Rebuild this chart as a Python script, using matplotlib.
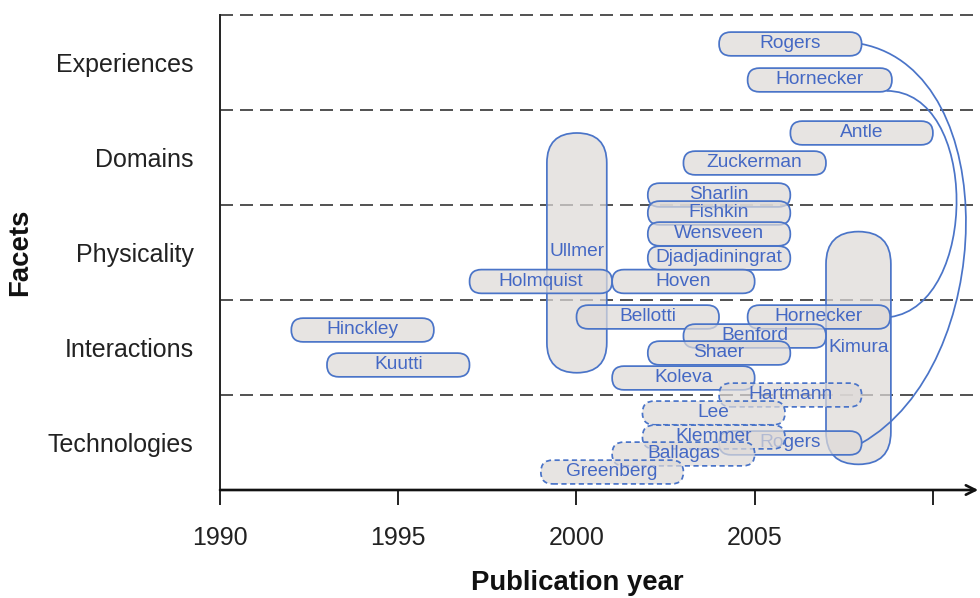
import matplotlib
matplotlib.use('Agg')
import matplotlib.pyplot as plt
from matplotlib.patches import FancyBboxPatch, PathPatch
from matplotlib.path import Path

plt.rcParams['font.family'] = ['Liberation Sans', 'DejaVu Sans']

# ---------------- data ----------------
facets = ['Technologies', 'Interactions', 'Physicality', 'Domains', 'Experiences']
facet_pos = [0.5, 1.5, 2.5, 3.5, 4.5]
band_edges = [1, 2, 3, 4, 5]
year_ticks = [1990, 1995, 2000, 2005, 2010]
year_labels = ['1990', '1995', '2000', '2005', '']

# horizontal entries (drawing order matters: later ones lie on top)
names = ['Rogers', 'Hornecker', 'Antle', 'Zuckerman', 'Sharlin', 'Fishkin',
         'Wensveen', 'Djadjadiningrat', 'Holmquist', 'Hoven', 'Hinckley',
         'Kuutti', 'Bellotti', 'Hornecker', 'Benford', 'Shaer', 'Koleva',
         'Hartmann', 'Rogers', 'Lee', 'Klemmer', 'Ballagas', 'Greenberg']
starts = [2004.0, 2004.8, 2006.0, 2003.0, 2002.0, 2002.0,
          2002.0, 2002.0, 1997.0, 2001.0, 1992.0,
          1993.0, 2000.0, 2004.8, 2003.0, 2002.0, 2001.0,
          2004.0, 2004.0, 2001.85, 2001.85, 2001.0, 1999.0]
ends = [2008.0, 2008.85, 2010.0, 2007.0, 2006.0, 2006.0,
        2006.0, 2006.0, 2001.0, 2005.0, 1996.0,
        1997.0, 2004.0, 2008.8, 2007.0, 2006.0, 2005.0,
        2008.0, 2008.0, 2005.85, 2005.85, 2005.0, 2003.0]
rows = [4.695, 4.316, 3.758, 3.442, 3.105, 2.916,
        2.695, 2.442, 2.195, 2.195, 1.684,
        1.316, 1.821, 1.821, 1.621, 1.442, 1.179,
        1.0, 0.495, 0.811, 0.558, 0.379, 0.189]
dashed = [False, False, False, False, False, False,
          False, False, False, False, False,
          False, False, False, False, False, False,
          True, False, True, True, True, True]

# vertical entries spanning several facets
v_names = ['Ullmer', 'Kimura']
v_x0 = [1999.17, 2007.0]
v_x1 = [2000.85, 2008.82]
v_y0 = [1.234, 0.27]
v_y1 = [3.758, 2.72]

# links between entries (index into horizontal entries: from, to)
links = [(0, 18), (1, 13)]

# ---------------- style ----------------
edge_blue = '#4a74c8'
text_blue = '#4468c4'
pill_h = 0.25

fig = plt.figure(figsize=(9.8, 5.98), dpi=100)
ax = fig.add_axes([220 / 980, 108 / 598, 760 / 980, 475 / 598])
ax.set_xlim(1990, 2011.32)
ax.set_ylim(0, 5)

for s in ['top', 'right', 'bottom']:
    ax.spines[s].set_visible(False)
ax.spines['left'].set_linewidth(1.4)
ax.spines['left'].set_color('#222222')

ax.set_xticks(year_ticks)
ax.set_xticklabels(year_labels, fontsize=18, color='#222222')
ax.tick_params(axis='x', length=11, width=1.4, color='#222222', pad=15)
ax.set_yticks(facet_pos)
ax.set_yticklabels(facets, fontsize=18, color='#222222')
ax.tick_params(axis='y', length=0, pad=19)

# axis arrow
ax.annotate('', xy=(2011.27, 0), xytext=(1990, 0),
            arrowprops=dict(arrowstyle='->', lw=1.9, color='#111111',
                            mutation_scale=17, shrinkA=0, shrinkB=0),
            annotation_clip=False, zorder=10)

# dashed band separators
for yb in band_edges:
    ax.plot([1990, 2011.32], [yb, yb], color='#333333', lw=1.2,
            dashes=(7.8, 4.2), zorder=1, clip_on=False)

# aspect for round corners (pixels per x-unit / pixels per y-unit)
p0 = ax.transData.transform((1990, 0))
px = ax.transData.transform((1991, 0))[0] - p0[0]
py = ax.transData.transform((1990, 1))[1] - p0[1]
ma = px / py


def pill(x0, x1, y0, y1, dash, z):
    w = x1 - x0
    h = y1 - y0
    r = min(w, h / ma) / 2.0
    patch = FancyBboxPatch((x0, y0), w, h,
                           boxstyle='round,pad=0,rounding_size=%f' % r,
                           mutation_aspect=ma,
                           facecolor=(0.87, 0.855, 0.847, 0.72),
                           edgecolor=edge_blue, lw=1.25, zorder=z, clip_on=False)
    if dash:
        patch.set_linestyle((0, (3, 2)))
    ax.add_patch(patch)


# vertical pills
for i, nm in enumerate(v_names):
    pill(v_x0[i], v_x1[i], v_y0[i], v_y1[i], False, 2 + 0.01 * i)
    ax.text((v_x0[i] + v_x1[i]) / 2, (v_y0[i] + v_y1[i]) / 2 + 0.01, nm,
            ha='center', va='center', fontsize=13.8, color=text_blue,
            zorder=2.005 + 0.01 * i)

# links
for a, b in links:
    xa, ya = ends[a], rows[a]
    xb, yb = ends[b], rows[b]
    if a == 1:
        xa, ya = ends[a] - 0.15, rows[a] - pill_h / 2 + 0.01
        verts = [(xa, ya), (2011.3, ya), (2011.3, 1.95), (xb, yb)]
    else:
        verts = [(xa, ya), (2012.0, 4.4), (2011.8, 1.3), (xb, yb)]
    path = Path(verts, [Path.MOVETO, Path.CURVE4, Path.CURVE4, Path.CURVE4])
    ax.add_patch(PathPatch(path, facecolor='none', edgecolor=edge_blue,
                           lw=1.25, zorder=2.9, clip_on=False))

# horizontal pills
for i, nm in enumerate(names):
    z = 3 + 0.01 * i
    pill(starts[i], ends[i], rows[i] - pill_h / 2, rows[i] + pill_h / 2,
         dashed[i], z)
    ax.text((starts[i] + ends[i]) / 2, rows[i] + 0.005, nm, ha='center',
            va='center', fontsize=13.8, color=text_blue, zorder=z + 0.005)

fig.text(577 / 980, 1 - 583 / 598, 'Publication year', ha='center',
         va='center', fontsize=19.8, fontweight='bold', color='#111111')
fig.text(20 / 980, 1 - 252 / 598, 'Facets', ha='center', va='center',
         rotation=90, fontsize=19.8, fontweight='bold', color='#111111')

fig.savefig('out.png', dpi=100)
